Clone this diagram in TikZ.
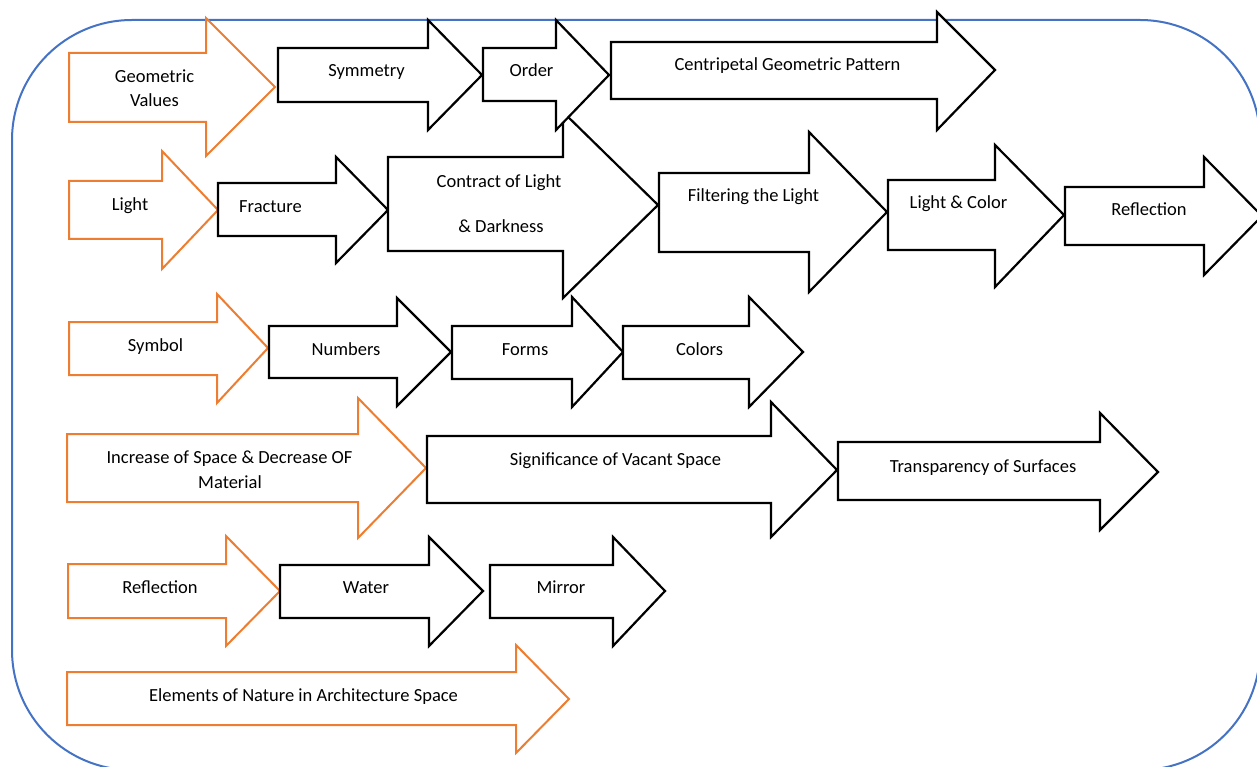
\documentclass[tikz,border=0pt]{standalone}
\usepackage{fontspec}
\setmainfont{Carlito}
\definecolor{offorange}{RGB}{237,125,49}
\definecolor{offblue}{RGB}{68,114,196}
% block arrow: style, xl, shaft top, shaft bottom, head x, head top, head bottom, tip x, tip y
\newcommand{\barrow}[9]{\draw[#1] (#2,#3) -- (#5,#3) -- (#5,#6) -- (#8,#9) -- (#5,#7) -- (#5,#4) -- (#2,#4) -- cycle;}
\tikzset{
  blk/.style={draw=black, line width=2.2pt, fill=white, line join=miter},
  org/.style={draw=offorange, line width=2pt, fill=white, line join=miter},
  frame/.style={draw=offblue, line width=2pt, rounded corners=120pt},
  lbl/.style={anchor=base, inner sep=0pt, font=\fontsize{18.5}{22}\selectfont}
}
\begin{document}
\begin{tikzpicture}[x=1pt,y=-1pt]
\useasboundingbox (0,0) rectangle (1257,767);
\draw[frame] (12,20) rectangle (1260,770);
% row 2
\barrow{org}{69}{181}{239}{162}{151}{269}{218}{210}
\barrow{blk}{218}{183}{236}{336}{157}{263}{388}{210}
\barrow{blk}{388}{157}{251}{563}{112}{298}{658}{205}
\barrow{blk}{659}{173}{252}{809}{132}{292}{887}{212}
\barrow{blk}{888}{180}{250}{995}{145}{287}{1064}{215}
\barrow{blk}{1065}{187}{245}{1204}{157}{275}{1262}{216}
% row 1
\barrow{org}{69}{53}{122}{206}{18}{156}{275}{87}
\barrow{blk}{278}{48}{102}{428}{20}{130}{482}{75}
\barrow{blk}{483}{48}{101}{556}{20}{130}{609}{75}
\barrow{blk}{611}{42}{99}{937}{12}{130}{995}{70}
% row 3
\barrow{org}{69}{322}{375}{217}{294}{403}{268}{348}
\barrow{blk}{269}{326}{378}{397}{298}{406}{451}{352}
\barrow{blk}{452}{326}{379}{572}{297}{407}{623}{352}
\barrow{blk}{623}{326}{379}{749}{297}{407}{803}{352}
% row 4
\barrow{org}{67}{434}{502}{358}{398}{538}{426}{468}
\barrow{blk}{427}{436}{503}{771}{402}{537}{837}{470}
\barrow{blk}{838}{442}{500}{1100}{413}{530}{1158}{472}
% row 5
\barrow{org}{68}{564}{618}{226}{536}{646}{280}{591}
\barrow{blk}{280}{565}{618}{429}{537}{646}{483}{591}
\barrow{blk}{490}{565}{618}{613}{537}{646}{665}{591}
% row 6
\barrow{org}{67}{672}{725}{516}{645}{753}{569}{699}
% labels
\node[lbl] (geoA) at (154.5,82.5) {Geometric};
\node[lbl] (geoB) at (154.5,107) {Values};
\node[lbl] (symm) at (366.5,77) {Symmetry};
\node[lbl] (order) at (531.5,77) {Order};
\node[lbl] (centri) at (787.5,71) {Centripetal Geometric Pattern};
\node[lbl] (light) at (130,211) {Light};
\node[lbl] (fract) at (270.5,212.5) {Fracture};
\node[lbl] (contA) at (499,188) {Contract of Light};
\node[lbl] (contB) at (501,233) {\& Darkness};
\node[lbl] (filt) at (753.5,202) {Filtering the Light};
\node[lbl] (lcol) at (958.5,209) {Light \& Color};
\node[lbl] (refA) at (1149,216) {Reflection};
\node[lbl] (symb) at (155.5,351) {Symbol};
\node[lbl] (numb) at (346,355) {Numbers};
\node[lbl] (forms) at (525,355) {Forms};
\node[lbl] (colors) at (699.5,355) {Colors};
\node[lbl] (incA) at (229.5,463) {Increase of Space \& Decrease OF};
\node[lbl] (incB) at (230,488) {Material};
\node[lbl] (signif) at (615.5,465) {Significance of Vacant Space};
\node[lbl] (transp) at (983,472) {Transparency of Surfaces};
\node[lbl] (refB) at (160,593) {Reflection};
\node[lbl] (water) at (366,593) {Water};
\node[lbl] (mirror) at (561,593) {Mirror};
\node[lbl] (elem) at (303.5,701) {Elements of Nature in Architecture Space};
\end{tikzpicture}
\end{document}
